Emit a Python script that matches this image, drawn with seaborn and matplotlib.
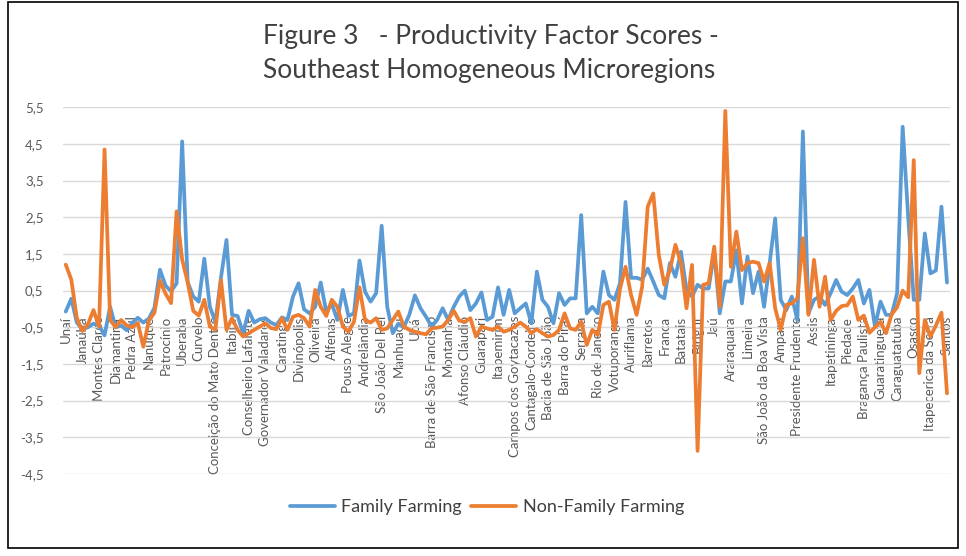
"""
Figure 3 - Productivity factor scores, Southeast homogeneous microregions
Line chart of family vs non-family farming scores per microregion
"""

import numpy as np
import pandas as pd
import matplotlib
matplotlib.use('Agg')
import matplotlib.pyplot as plt
import seaborn as sns

# Microregions by state (IBGE order)
regions_mg = ['Unaí', 'Paracatu', 'Januária', 'Janaúba', 'Salinas', 'Pirapora', 'Montes Claros',
              'Grão Mogol', 'Bocaiúva', 'Diamantina', 'Capelinha', 'Araçuaí', 'Pedra Azul',
              'Almenara', 'Teófilo Otoni', 'Nanuque', 'Ituiutaba', 'Uberlândia', 'Patrocínio',
              'Patos de Minas', 'Frutal', 'Uberaba', 'Araxá', 'Três Marias', 'Curvelo',
              'Bom Despacho', 'Sete Lagoas', 'Conceição do Mato Dentro', 'Pará de Minas',
              'Belo Horizonte', 'Itabira', 'Itaguara', 'Ouro Preto', 'Conselheiro Lafaiete',
              'Guanhães', 'Peçanha', 'Governador Valadares', 'Mantena', 'Ipatinga', 'Caratinga',
              'Aimorés', 'Piuí', 'Divinópolis', 'Formiga', 'Campo Belo', 'Oliveira', 'Passos',
              'São Sebastião do Paraíso', 'Alfenas', 'Varginha', 'Poços de Caldas', 'Pouso Alegre',
              'Santa Rita do Sapucaí', 'São Lourenço', 'Andrelândia', 'Itajubá', 'Lavras',
              'São João Del Rei', 'Barbacena', 'Ponte Nova', 'Manhuaçu', 'Viçosa', 'Muriaé',
              'Ubá', 'Juiz de Fora', 'Cataguases']
regions_es = ['Barra de São Francisco', 'Nova Venécia', 'Colatina', 'Montanha', 'São Mateus',
              'Linhares', 'Afonso Cláudio', 'Santa Teresa', 'Vitória', 'Guarapari', 'Alegre',
              'Cachoeiro de Itapemirim', 'Itapemirim']
regions_rj = ['Itaperuna', 'Santo Antônio de Pádua', 'Campos dos Goytacazes', 'Macaé', 'Três Rios',
              'Cantagalo-Cordeiro', 'Nova Friburgo', 'Santa Maria Madalena', 'Bacia de São João',
              'Lagos', 'Vale do Paraíba Fluminense', 'Barra do Piraí', 'Baía da Ilha Grande',
              'Vassouras', 'Serrana', 'Macacu-Caceribu', 'Itaguaí', 'Rio de Janeiro']
regions_sp = ['Jales', 'Fernandópolis', 'Votuporanga', 'São José do Rio Preto', 'Catanduva',
              'Auriflama', 'Nhandeara', 'Novo Horizonte', 'Barretos', 'São Joaquim da Barra',
              'Ituverava', 'Franca', 'Jaboticabal', 'Ribeirão Preto', 'Batatais', 'Andradina',
              'Araçatuba', 'Birigui', 'Lins', 'Bauru', 'Jaú', 'Avaré', 'Botucatu', 'Araraquara',
              'São Carlos', 'Rio Claro', 'Limeira', 'Piracicaba', 'Pirassununga',
              'São João da Boa Vista', 'Moji Mirim', 'Campinas', 'Amparo', 'Dracena', 'Adamantina',
              'Presidente Prudente', 'Tupã', 'Marília', 'Assis', 'Ourinhos', 'Itapeva',
              'Itapetininga', 'Tatuí', 'Capão Bonito', 'Piedade', 'Sorocaba', 'Jundiaí',
              'Bragança Paulista', 'Campos do Jordão', 'São José dos Campos', 'Guaratinguetá',
              'Bananal', 'Paraibuna/Paraitinga', 'Caraguatatuba', 'Registro', 'Itanhaém', 'Osasco',
              'Franco da Rocha', 'Guarulhos', 'Itapecerica da Serra', 'São Paulo',
              'Mogi das Cruzes', 'Santos']

# Family farming scores
family_mg = [-0.07, 0.28, -0.37, -0.55, -0.5, -0.4, -0.45, -0.72, 0.06, -0.5,
             -0.45, -0.58, -0.38, -0.24, -0.37, -0.26, 0.03, 1.07, 0.64, 0.48,
             0.7, 4.57, 0.73, 0.34, 0.2, 1.37, 0.06, -0.35, 0.85, 1.88,
             -0.16, -0.19, -0.66, -0.05, -0.37, -0.28, -0.25, -0.37, -0.44, -0.23,
             -0.3, 0.34, 0.7, -0.01, -0.12, 0.06, 0.72, -0.07, 0.14, -0.3,
             0.52, -0.19, -0.12, 1.32, 0.47, 0.2, 0.43, 2.27, 0.06, -0.66,
             -0.4, -0.5, -0.15, 0.37, 0.02, -0.21]
family_es = [-0.48, -0.3, 0.02, -0.3, 0.06, 0.34, 0.5, -0.03, 0.15, 0.45, -0.3, -0.21, 0.59]
family_rj = [-0.16, 0.52, -0.12, 0.02, 0.15, -0.39, 1.02, 0.25, 0.06, -0.39,
             0.43, 0.11, 0.29, 0.29, 2.56, -0.12, 0.06, -0.12]
family_sp = [1.02, 0.38, 0.25, 0.7, 2.92, 0.85, 0.85, 0.8, 1.1, 0.75,
             0.38, 0.29, 1.25, 0.88, 1.56, 0.52, 0.34, 0.66, 0.56, 0.56,
             1.56, -0.12, 0.75, 0.75, 1.6, 0.15, 1.43, 0.43, 1.02, 0.06,
             1.25, 2.47, 0.25, -0.03, 0.34, -0.3, 4.84, -0.12, 0.25, 0.34,
             0.11, 0.43, 0.79, 0.47, 0.38, 0.56, 0.79, 0.15, 0.52, -0.48,
             0.2, -0.16, -0.16, 0.43, 4.97, 2.5, 0.25, 0.25, 2.06, 0.97,
             1.05, 2.79, 0.72]

# Non-family farming scores
nonfamily_mg = [1.21, 0.8, -0.25, -0.6, -0.42, -0.03, -0.48, 4.35, -0.3, -0.5,
                -0.3, -0.45, -0.5, -0.38, -1.03, -0.32, -0.1, 0.77, 0.42, 0.16,
                2.66, 1.35, 0.73, -0.05, -0.18, 0.25, -0.48, -0.57, 0.79, -0.57,
                -0.25, -0.57, -0.75, -0.66, -0.57, -0.48, -0.39, -0.52, -0.55, -0.25,
                -0.57, -0.21, -0.16, -0.25, -0.48, 0.52, 0.06, -0.19, 0.25, 0.06,
                -0.48, -0.62, -0.35, 0.59, -0.3, -0.37, -0.25, -0.57, -0.53, -0.3,
                -0.07, -0.48, -0.57, -0.62, -0.66, -0.69]
nonfamily_es = [-0.53, -0.51, -0.48, -0.3, -0.05, -0.32, -0.35, -0.25, -0.75, -0.48,
                -0.53, -0.57, -0.48]
nonfamily_rj = [-0.62, -0.57, -0.48, -0.37, -0.48, -0.66, -0.55, -0.66, -0.75, -0.71,
                -0.57, -0.12, -0.53, -0.57, -0.35, -0.98, -0.57, -0.71]
nonfamily_sp = [0.11, 0.2, -0.57, 0.55, 1.15, 0.38, -0.16, 0.61, 2.79, 3.15,
                1.47, 0.66, 1.06, 1.75, 1.25, 0.02, 1.2, -3.87, 0.66, 0.7,
                1.7, 0.06, 5.4, 1.15, 2.11, 1.06, 1.25, 1.29, 1.25, 0.75,
                1.25, 0.02, -0.57, 0.11, 0.15, 0.29, 1.93, -0.16, 1.34, 0.06,
                0.88, -0.3, -0.05, 0.08, 0.1, 0.34, -0.3, -0.18, -0.65, -0.5,
                -0.35, -0.66, -0.15, 0.05, 0.5, 0.32, 4.06, -1.75, -0.3, -0.75,
                -0.45, -0.1, -2.3]

y_ticks = [-4.5, -3.5, -2.5, -1.5, -0.5, 0.5, 1.5, 2.5, 3.5, 4.5, 5.5]

# Assemble
regions = regions_mg + regions_es + regions_rj + regions_sp
family = family_mg + family_es + family_rj + family_sp
nonfamily = nonfamily_mg + nonfamily_es + nonfamily_rj + nonfamily_sp
idx = np.arange(len(regions))

df = pd.concat([
    pd.DataFrame({'idx': idx, 'region': regions, 'score': family, 'series': 'Family Farming'}),
    pd.DataFrame({'idx': idx, 'region': regions, 'score': nonfamily, 'series': 'Non-Family Farming'}),
])

sns.set_style('white')
plt.rcParams['font.family'] = ['Lato', 'DejaVu Sans']

fig = plt.figure(figsize=(9.66, 5.56), dpi=100)
ax = fig.add_axes([0.0652, 0.1475, 0.918, 0.6595])

sns.lineplot(data=df, x='idx', y='score', hue='series',
             palette={'Family Farming': '#5B9BD5', 'Non-Family Farming': '#ED7D31'},
             linewidth=2.7, sort=False, ax=ax, legend=True)

# spine position first: moving it resets the ticks
for s in ax.spines.values():
    s.set_visible(False)
ax.spines['bottom'].set_position(('data', 0))

ax.set_xlim(-0.5, len(regions) - 0.5)
ax.set_ylim(-4.5, 5.5)
ax.set_yticks(y_ticks)
ax.set_yticklabels([f'{v:.1f}'.replace('.', ',') for v in y_ticks])
ax.tick_params(axis='y', length=0, pad=14, labelcolor='#595959', labelsize=9.5)
ax.yaxis.grid(True, color='#D9D9D9', linewidth=1.0)
ax.set_axisbelow(True)

# category labels every third microregion, hanging from the zero line
ax.set_xticks(idx[::3])
ax.set_xticklabels(regions[::3])
ax.tick_params(axis='x', length=0, pad=5, labelrotation=90, labelcolor='#595959', labelsize=9.5)
ax.set_xlabel('')
ax.set_ylabel('')

# legend below the plot
handles, labels = ax.get_legend_handles_labels()
ax.get_legend().remove()
fig.legend(handles, labels, loc='center', bbox_to_anchor=(0.504, 0.088), ncol=2,
           frameon=False, fontsize=13, handlelength=2.5, handletextpad=0.35,
           columnspacing=0.5, labelcolor='#404040')

fig.text(0.508, 0.934, 'Figure 3   - Productivity Factor Scores -', ha='center', va='center',
         fontsize=19, color='#404040')
fig.text(0.506, 0.873, 'Southeast Homogeneous Microregions', ha='center', va='center',
         fontsize=19, color='#404040')

# chart border
fig.add_artist(plt.Rectangle((8 / 966, 8 / 556), 950 / 966, 546 / 556, transform=fig.transFigure,
                             fill=False, edgecolor='black', linewidth=1.2))

fig.savefig('out.png', dpi=100)
